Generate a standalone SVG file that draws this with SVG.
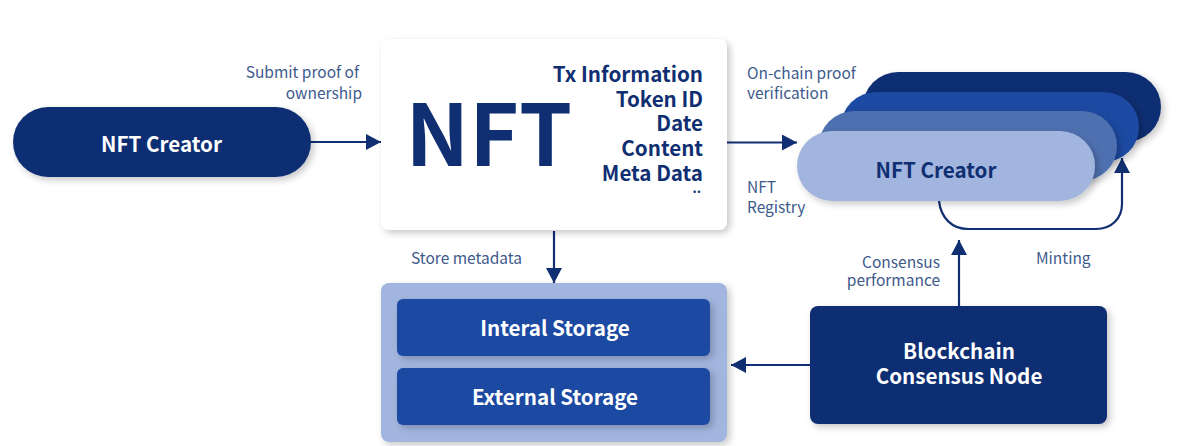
<svg xmlns="http://www.w3.org/2000/svg" width="1200" height="446" viewBox="0 0 1200 446">
<style>
text{font-family:"Noto Sans CJK KR","Noto Sans","Liberation Sans",sans-serif}
.lbl{font-size:15.5px;fill:#3d5a8c}
.h{font-size:20.6px;font-weight:700;fill:#102f72}
.w{font-size:20.6px;font-weight:700;fill:#fff;text-anchor:middle}
.line{fill:none;stroke:#102f72;stroke-width:2.2}
.sh{filter:url(#s)}
</style>
<defs>
<filter id="s" x="-10%" y="-15%" width="125%" height="135%"><feDropShadow dx="3" dy="3" stdDeviation="3.5" flood-color="#000" flood-opacity=".22"/></filter>
<marker id="a" markerUnits="userSpaceOnUse" markerWidth="16" markerHeight="18" refX="15" refY="8" orient="auto"><path d="M0 0L15 8L0 16Z" fill="#102f72"/></marker>
</defs>
<rect width="1200" height="446" fill="#fff"/>
<g id="connectors">
<path class="line" d="M310 142H381" marker-end="url(#a)"/>
<path class="line" d="M726 142.500H797" marker-end="url(#a)"/>
<path class="line" d="M554 231V283" marker-end="url(#a)"/>
<path class="line" d="M959 306V240" marker-end="url(#a)"/>
<path class="line" d="M810 365H731" marker-end="url(#a)"/>
<path class="line" d="M939 201C941 218 952 229 968 229H1096C1112 229 1122 218 1122 204V158" marker-end="url(#a)"/>
</g>
<g id="creator-left">
<rect class="sh" x="13" y="107" width="298" height="70" rx="35" fill="#102f72"/>
<text class="w" x="161.500" y="152">NFT Creator</text>
</g>
<g id="nft-card">
<rect class="sh" x="381" y="39" width="346" height="191" rx="8" fill="#fff"/>
<text x="405.500" y="166" font-size="85" font-weight="700" fill="#102f72">NFT</text>
<g text-anchor="end">
<text class="h" x="703" y="82">Tx Information</text>
<text class="h" x="703" y="107">Token ID</text>
<text class="h" x="703" y="131">Date</text>
<text class="h" x="703" y="156">Content</text>
<text class="h" x="703" y="181">Meta Data</text>
<text class="h" x="701" y="193" style="font-size:13px">..</text>
</g>
</g>
<g id="registry">
<rect class="sh" x="863" y="72" width="298" height="70" rx="35" fill="#102f72"/>
<rect class="sh" x="841" y="92" width="298" height="70" rx="35" fill="#1c49a1"/>
<rect class="sh" x="819" y="111" width="298" height="70" rx="35" fill="#4f6fb0"/>
<rect class="sh" x="797" y="131" width="298" height="70" rx="35" fill="#a1b5de"/>
<text x="936" y="178" font-size="20.600" font-weight="700" fill="#102f72" text-anchor="middle">NFT Creator</text>
</g>
<g id="storage">
<rect class="sh" x="381" y="283" width="346" height="159" rx="8" fill="#a1b5de"/>
<g id="internal-storage">
<rect class="sh" x="397" y="299" width="313" height="57" rx="6" fill="#1c49a1"/>
<text class="w" x="555" y="336">Interal Storage</text>
</g>
<g id="external-storage">
<rect class="sh" x="397" y="368" width="313" height="57" rx="6" fill="#1c49a1"/>
<text class="w" x="555" y="405">External Storage</text>
</g>
</g>
<g id="consensus-node">
<rect class="sh" x="810" y="306" width="297" height="118" rx="8" fill="#102f72"/>
<text class="w" x="959" y="359">Blockchain</text>
<text class="w" x="959" y="384">Consensus Node</text>
</g>
<g id="labels">
<text class="lbl" x="359" y="78" text-anchor="end">Submit proof of</text>
<text class="lbl" x="362" y="99" text-anchor="end">ownership</text>
<text class="lbl" x="747" y="79">On-chain proof</text>
<text class="lbl" x="747" y="99">verification</text>
<text class="lbl" x="747" y="193">NFT</text>
<text class="lbl" x="747" y="213">Registry</text>
<text class="lbl" x="411" y="264">Store metadata</text>
<text class="lbl" x="940" y="268" text-anchor="end">Consensus</text>
<text class="lbl" x="940" y="286" text-anchor="end">performance</text>
<text class="lbl" x="1036" y="264">Minting</text>
</g>
</svg>
